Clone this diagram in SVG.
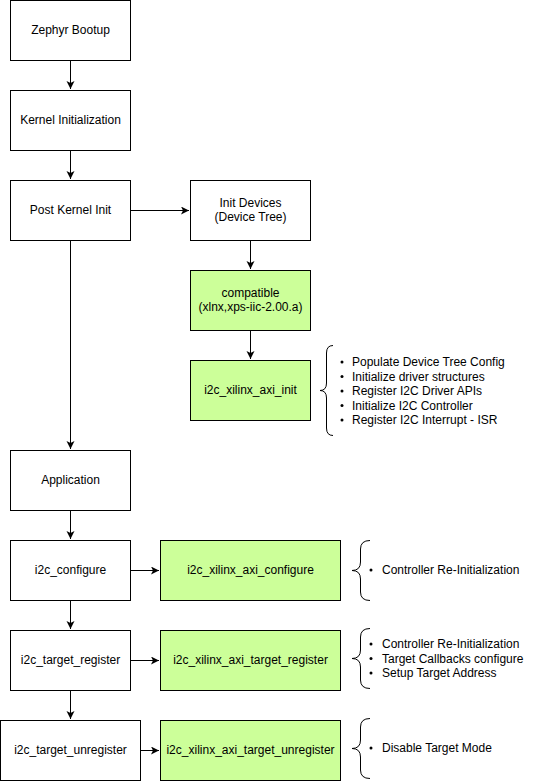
<svg xmlns="http://www.w3.org/2000/svg" width="551" height="781" viewBox="0 0 551 781">
<defs>
<marker id="arr" markerWidth="10" markerHeight="10" refX="8" refY="4" orient="auto" markerUnits="userSpaceOnUse">
<path d="M0,0 L8,4 L0,8 L2,4 Z" fill="#000"/>
</marker>
<style>
.box{fill:#fff;stroke:#000;stroke-width:1}
.g{fill:#ccff99;stroke:#000;stroke-width:1}
.t{font-family:"Liberation Sans",Arial,sans-serif;font-size:12px;fill:#000;text-anchor:middle}
.l{font-family:"Liberation Sans",Arial,sans-serif;font-size:12px;fill:#000;text-anchor:start}
.c{fill:none;stroke:#000;stroke-width:1}
.a{fill:none;stroke:#000;stroke-width:1;marker-end:url(#arr)}
</style>
</defs>
<rect width="551" height="781" fill="#fff"/>
<g id="connectors">
<path class="a" d="M70.5,60 L70.5,89"/>
<path class="a" d="M70.5,150 L70.5,179"/>
<path class="a" d="M130,210.5 L189,210.5"/>
<path class="a" d="M250.5,240 L250.5,269"/>
<path class="a" d="M250.5,330 L250.5,359"/>
<path class="a" d="M70.5,240 L70.5,449"/>
<path class="a" d="M70.5,510 L70.5,539"/>
<path class="a" d="M130,570.5 L159,570.5"/>
<path class="a" d="M70.5,600 L70.5,629"/>
<path class="a" d="M130,660.5 L159,660.5"/>
<path class="a" d="M70.5,690 L70.5,719"/>
<path class="a" d="M140,750.5 L159,750.5"/>
</g>
<g id="zephyr-bootup"><rect class="box" x="10.5" y="0.5" width="120" height="60"/><text class="t" x="70.5" y="34">Zephyr Bootup</text></g>
<g id="kernel-init"><rect class="box" x="10.5" y="90.5" width="120" height="60"/><text class="t" x="70.5" y="124">Kernel Initialization</text></g>
<g id="post-kernel-init"><rect class="box" x="10.5" y="180.5" width="120" height="60"/><text class="t" x="70.5" y="214">Post Kernel Init</text></g>
<g id="init-devices"><rect class="box" x="190.5" y="180.5" width="120" height="60"/><text class="t" x="250.5" y="207">Init Devices</text><text class="t" x="250.5" y="221">(Device Tree)</text></g>
<g id="compatible"><rect class="g" x="190.5" y="270.5" width="120" height="60"/><text class="t" x="250.5" y="297">compatible</text><text class="t" x="250.5" y="311">(xlnx,xps-iic-2.00.a)</text></g>
<g id="axi-init"><rect class="g" x="190.5" y="360.5" width="120" height="60"/><text class="t" x="250.5" y="394">i2c_xilinx_axi_init</text></g>
<g id="init-notes">
<path class="c" d="M333,345.5 Q326.5,345.5 326.5,353 L326.5,383 Q326.5,390.5 320,390.5 Q326.5,390.5 326.5,398 L326.5,428 Q326.5,435.5 333,435.5"/>
<circle cx="342" cy="362" r="1.5"/><circle cx="342" cy="376.5" r="1.5"/><circle cx="342" cy="391" r="1.5"/><circle cx="342" cy="405.5" r="1.5"/><circle cx="342" cy="420" r="1.5"/>
<text class="l" x="352" y="366">Populate Device Tree Config</text>
<text class="l" x="352" y="380.5">Initialize driver structures</text>
<text class="l" x="352" y="395">Register I2C Driver APIs</text>
<text class="l" x="352" y="409.5">Initialize I2C Controller</text>
<text class="l" x="352" y="424">Register I2C Interrupt - ISR</text>
</g>
<g id="application"><rect class="box" x="10.5" y="450.5" width="120" height="60"/><text class="t" x="70.5" y="484">Application</text></g>
<g id="i2c-configure"><rect class="box" x="10.5" y="540.5" width="120" height="60"/><text class="t" x="70.5" y="574">i2c_configure</text></g>
<g id="axi-configure"><rect class="g" x="160.5" y="540.5" width="180" height="60"/><text class="t" x="250.5" y="574">i2c_xilinx_axi_configure</text></g>
<g id="configure-notes">
<path class="c" d="M370,540.5 Q360.5,540.5 360.5,549 L360.5,562 Q360.5,570.5 352,570.5 Q360.5,570.5 360.5,579 L360.5,592 Q360.5,600.5 370,600.5"/>
<circle cx="371" cy="570" r="1.5"/>
<text class="l" x="382" y="574">Controller Re-Initialization</text>
</g>
<g id="i2c-target-register"><rect class="box" x="10.5" y="630.5" width="120" height="60"/><text class="t" x="70.5" y="664">i2c_target_register</text></g>
<g id="axi-target-register"><rect class="g" x="160.5" y="630.5" width="180" height="60"/><text class="t" x="250.5" y="664">i2c_xilinx_axi_target_register</text></g>
<g id="register-notes">
<path class="c" d="M370,628.5 Q360.5,628.5 360.5,637 L360.5,650 Q360.5,658.5 352,658.5 Q360.5,658.5 360.5,667 L360.5,680 Q360.5,688.5 370,688.5"/>
<circle cx="371" cy="644" r="1.5"/><circle cx="371" cy="658.5" r="1.5"/><circle cx="371" cy="673" r="1.5"/>
<text class="l" x="382" y="648">Controller Re-Initialization</text>
<text class="l" x="382" y="662.5">Target Callbacks configure</text>
<text class="l" x="382" y="677">Setup Target Address</text>
</g>
<g id="i2c-target-unregister"><rect class="box" x="0.5" y="720.5" width="140" height="60"/><text class="t" x="70.5" y="754">i2c_target_unregister</text></g>
<g id="axi-target-unregister"><rect class="g" x="160.5" y="720.5" width="180" height="60"/><text class="t" x="250.5" y="754">i2c_xilinx_axi_target_unregister</text></g>
<g id="unregister-notes">
<path class="c" d="M370,718.5 Q360.5,718.5 360.5,727 L360.5,740 Q360.5,748.5 352,748.5 Q360.5,748.5 360.5,757 L360.5,770 Q360.5,778.5 370,778.5"/>
<circle cx="371" cy="748" r="1.5"/>
<text class="l" x="382" y="752">Disable Target Mode</text>
</g>
</svg>
